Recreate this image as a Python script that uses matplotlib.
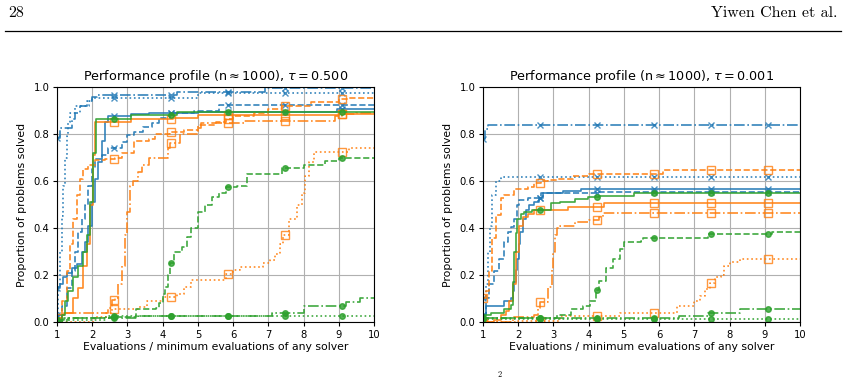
import matplotlib
matplotlib.use("Agg")
import matplotlib.pyplot as plt
import numpy as np
from matplotlib.lines import Line2D

# ---- data (step curves) ----
# tau = 0.500 panel
t500_blue_solid_x = [1.0, 1.08, 1.18, 1.27, 1.42, 1.56, 1.7, 1.8, 1.89, 1.98, 2.08, 2.17, 2.27, 2.36, 2.46, 3.1, 3.6, 5.0, 8.95]
t500_blue_solid_y = [0.145, 0.16, 0.19, 0.21, 0.23, 0.245, 0.30, 0.34, 0.41, 0.51, 0.61, 0.68, 0.77, 0.85, 0.875, 0.885, 0.89, 0.895, 0.905]
t500_blue_dashed_x = [1.0, 1.13, 1.27, 1.42, 1.51, 1.6, 1.7, 1.8, 1.89, 1.98, 2.08, 2.27, 2.46, 2.84, 2.98, 3.2, 3.45, 3.7, 3.9, 4.2, 4.9, 5.6]
t500_blue_dashed_y = [0.03, 0.07, 0.145, 0.215, 0.30, 0.385, 0.44, 0.50, 0.58, 0.65, 0.695, 0.71, 0.74, 0.766, 0.795, 0.81, 0.83, 0.845, 0.87, 0.888, 0.90, 0.923]
t500_blue_dashdot_x = [1.0, 1.08, 1.42, 1.5, 1.65, 1.84, 1.98, 2.13, 4.4, 6.9]
t500_blue_dashdot_y = [0.785, 0.825, 0.865, 0.89, 0.92, 0.94, 0.957, 0.966, 0.977, 0.994]
t500_blue_dotted_x = [1.0, 1.04, 1.08, 1.13, 1.18, 1.22, 1.27, 1.32, 1.37, 1.5, 1.9, 2.0, 5.0]
t500_blue_dotted_y = [0.02, 0.15, 0.3, 0.45, 0.58, 0.7, 0.79, 0.85, 0.89, 0.92, 0.94, 0.952, 0.973]

t500_orange_solid_x = [1.0, 1.13, 1.2, 1.46, 1.6, 1.75, 1.84, 1.94, 2.03, 2.08, 3.1, 4.3, 5.0, 9.0]
t500_orange_solid_y = [0.0, 0.03, 0.04, 0.10, 0.145, 0.24, 0.33, 0.50, 0.71, 0.85, 0.865, 0.87, 0.88, 0.885]
t500_orange_dashed_x = [1.0, 1.13, 1.27, 1.37, 1.46, 1.56, 1.65, 1.75, 1.89, 2.08, 2.36, 2.65, 2.84, 3.2, 3.6, 3.78, 4.2,
                        4.6, 5.0, 5.5, 5.8, 6.0, 6.6, 7.0, 7.4, 8.2, 9.0, 9.3]
t500_orange_dashed_y = [0.017, 0.09, 0.215, 0.33, 0.44, 0.54, 0.61, 0.65, 0.67, 0.69, 0.695, 0.70, 0.72, 0.77, 0.78, 0.80, 0.81,
                        0.815, 0.84, 0.85, 0.865, 0.875, 0.89, 0.905, 0.92, 0.935, 0.95, 0.955]
t500_orange_dashdot_x = [1.0, 1.13, 1.2, 2.46, 2.55, 2.65, 2.74, 2.84, 2.93, 2.98, 3.07, 3.17, 3.3, 3.4, 3.6, 4.15, 4.22,
                         4.5, 5.0, 5.1, 6.3, 8.9, 9.1, 9.5]
t500_orange_dashdot_y = [0.0, 0.025, 0.04, 0.06, 0.095, 0.10, 0.16, 0.24, 0.37, 0.47, 0.58, 0.60, 0.64, 0.667, 0.70, 0.74, 0.76,
                         0.80, 0.825, 0.845, 0.855, 0.875, 0.885, 0.89]
t500_orange_dotted_x = [1.0, 2.05, 2.4, 2.55, 3.3, 3.55, 4.0, 4.4, 4.6, 4.8, 5.8, 6.0, 6.2, 6.85, 7.05, 7.2, 7.32, 7.42, 7.6,
                        7.8, 7.95, 8.05, 8.15, 8.3, 9.3]
t500_orange_dotted_y = [0.0, 0.02, 0.04, 0.055, 0.065, 0.09, 0.105, 0.12, 0.15, 0.18, 0.205, 0.22, 0.235, 0.25, 0.265, 0.29, 0.33,
                        0.37, 0.44, 0.50, 0.55, 0.62, 0.68, 0.725, 0.74]

t500_green_solid_x = [1.0, 1.13, 1.23, 1.32, 1.46, 1.6, 1.75, 1.84, 1.94, 2.03, 2.1, 3.1, 4.4]
t500_green_solid_y = [0.0, 0.03, 0.09, 0.13, 0.19, 0.24, 0.30, 0.37, 0.51, 0.72, 0.865, 0.88, 0.893]
t500_green_dashed_x = [1.0, 1.3, 2.5, 3.25, 3.8, 3.9, 4.0, 4.08, 4.15, 4.22, 4.32, 4.55, 4.7, 4.8, 5.0, 5.2, 5.4, 5.6, 5.8,
                       6.1, 6.4, 7.4, 8.0, 8.6, 9.0]
t500_green_dashed_y = [0.01, 0.015, 0.02, 0.055, 0.06, 0.08, 0.12, 0.15, 0.20, 0.25, 0.30, 0.32, 0.36, 0.40, 0.47, 0.50, 0.53,
                       0.55, 0.575, 0.58, 0.63, 0.655, 0.67, 0.685, 0.70]
t500_green_dashdot_x = [1.0, 1.2, 3.3, 7.1, 8.0, 9.2, 9.6]
t500_green_dashdot_y = [0.01, 0.015, 0.027, 0.04, 0.07, 0.085, 0.10]
t500_green_dotted_x = [1.0, 1.3, 2.4]
t500_green_dotted_y = [0.0, 0.01, 0.027]

# tau = 0.001 panel
t001_blue_solid_x = [1.0, 1.08, 1.6, 1.8, 1.85, 1.89, 1.94, 1.98, 2.02, 2.06, 2.13, 2.22, 2.32, 2.46, 2.6, 2.7, 3.26, 3.78]
t001_blue_solid_y = [0.03, 0.066, 0.088, 0.10, 0.13, 0.17, 0.22, 0.27, 0.33, 0.385, 0.44, 0.476, 0.50, 0.51, 0.526, 0.55, 0.557, 0.565]
t001_blue_dashed_x = [1.0, 1.08, 1.18, 1.32, 1.46, 1.6, 1.7, 1.8, 1.89, 1.98, 2.03, 2.27, 2.65, 4.3]
t001_blue_dashed_y = [0.03, 0.10, 0.16, 0.215, 0.27, 0.34, 0.385, 0.405, 0.44, 0.50, 0.52, 0.526, 0.547, 0.553]
t001_blue_dashdot_x = [1.0, 1.05, 1.13]
t001_blue_dashdot_y = [0.78, 0.82, 0.837]
t001_blue_dotted_x = [1.0, 1.08, 1.15, 1.21, 1.27, 1.37, 1.51]
t001_blue_dotted_y = [0.10, 0.16, 0.30, 0.41, 0.54, 0.60, 0.617]

t001_orange_solid_x = [1.0, 1.32, 1.51, 1.65, 1.75, 1.84, 1.94, 2.03, 2.13, 2.27, 2.46, 3.4, 4.43]
t001_orange_solid_y = [0.0, 0.01, 0.03, 0.045, 0.088, 0.16, 0.30, 0.41, 0.448, 0.46, 0.478, 0.49, 0.507]
t001_orange_dashed_x = [1.0, 1.08, 1.18, 1.27, 1.37, 1.51, 1.6, 1.89, 2.27, 2.46, 2.65, 2.84, 3.12, 3.56, 4.0, 6.1]
t001_orange_dashed_y = [0.10, 0.13, 0.215, 0.356, 0.455, 0.526, 0.54, 0.565, 0.575, 0.59, 0.60, 0.606, 0.61, 0.62, 0.628, 0.645]
t001_orange_dashdot_x = [1.0, 1.85, 2.45, 2.55, 2.62, 2.85, 2.95, 3.0, 3.05, 3.1, 3.2, 3.6, 4.0, 4.3, 4.4]
t001_orange_dashdot_y = [0.0, 0.02, 0.03, 0.06, 0.085, 0.15, 0.22, 0.30, 0.37, 0.40, 0.41, 0.425, 0.435, 0.445, 0.465]
t001_orange_dotted_x = [1.0, 2.0, 3.2, 4.9, 6.5, 7.0, 7.15, 7.3, 7.45, 7.6, 7.75, 7.85, 8.0, 8.3]
t001_orange_dotted_y = [0.0, 0.005, 0.025, 0.04, 0.07, 0.09, 0.11, 0.14, 0.165, 0.19, 0.20, 0.24, 0.255, 0.27]

t001_green_solid_x = [1.0, 1.04, 1.23, 1.6, 1.8, 1.84, 1.89, 1.94, 1.98, 2.08, 2.17, 2.4, 2.93, 3.2, 3.6, 3.97, 4.3, 5.3]
t001_green_solid_y = [0.017, 0.03, 0.038, 0.056, 0.073, 0.17, 0.30, 0.38, 0.44, 0.46, 0.47, 0.478, 0.505, 0.51, 0.525, 0.533, 0.536, 0.548]
t001_green_dashed_x = [1.0, 3.1, 3.5, 3.85, 4.05, 4.2, 4.3, 4.5, 4.7, 4.9, 4.99, 5.5, 5.55, 7.4, 9.2]
t001_green_dashed_y = [0.016, 0.03, 0.057, 0.07, 0.09, 0.136, 0.175, 0.23, 0.27, 0.31, 0.34, 0.345, 0.356, 0.373, 0.385]
t001_green_dashdot_x = [1.0, 6.57, 7.4, 8.3]
t001_green_dashdot_y = [0.016, 0.027, 0.04, 0.057]
t001_green_dotted_x = [1.0]
t001_green_dotted_y = [0.013]

# x positions where the solver markers sit on every curve
marker_x = np.array([1.0, 2.62, 4.24, 5.86, 7.48, 9.1])

# solver colour / marker, and one linestyle per variant
solver_style = {
    "blue":   dict(color="#1f77b4", marker="x", ms=5, mfc="#1f77b4"),
    "orange": dict(color="#ff7f0e", marker="s", ms=6, mfc="none"),
    "green":  dict(color="#2ca02c", marker="o", ms=4, mfc="#2ca02c"),
}
variant_ls = {"solid": "-", "dashed": "--", "dashdot": "-.", "dotted": ":"}

panels = [
    ("0.500", {
        ("blue", "solid"): (t500_blue_solid_x, t500_blue_solid_y),
        ("blue", "dashed"): (t500_blue_dashed_x, t500_blue_dashed_y),
        ("blue", "dashdot"): (t500_blue_dashdot_x, t500_blue_dashdot_y),
        ("blue", "dotted"): (t500_blue_dotted_x, t500_blue_dotted_y),
        ("orange", "solid"): (t500_orange_solid_x, t500_orange_solid_y),
        ("orange", "dashed"): (t500_orange_dashed_x, t500_orange_dashed_y),
        ("orange", "dashdot"): (t500_orange_dashdot_x, t500_orange_dashdot_y),
        ("orange", "dotted"): (t500_orange_dotted_x, t500_orange_dotted_y),
        ("green", "solid"): (t500_green_solid_x, t500_green_solid_y),
        ("green", "dashed"): (t500_green_dashed_x, t500_green_dashed_y),
        ("green", "dashdot"): (t500_green_dashdot_x, t500_green_dashdot_y),
        ("green", "dotted"): (t500_green_dotted_x, t500_green_dotted_y),
    }),
    ("0.001", {
        ("blue", "solid"): (t001_blue_solid_x, t001_blue_solid_y),
        ("blue", "dashed"): (t001_blue_dashed_x, t001_blue_dashed_y),
        ("blue", "dashdot"): (t001_blue_dashdot_x, t001_blue_dashdot_y),
        ("blue", "dotted"): (t001_blue_dotted_x, t001_blue_dotted_y),
        ("orange", "solid"): (t001_orange_solid_x, t001_orange_solid_y),
        ("orange", "dashed"): (t001_orange_dashed_x, t001_orange_dashed_y),
        ("orange", "dashdot"): (t001_orange_dashdot_x, t001_orange_dashdot_y),
        ("orange", "dotted"): (t001_orange_dotted_x, t001_orange_dotted_y),
        ("green", "solid"): (t001_green_solid_x, t001_green_solid_y),
        ("green", "dashed"): (t001_green_dashed_x, t001_green_dashed_y),
        ("green", "dashdot"): (t001_green_dashdot_x, t001_green_dashdot_y),
        ("green", "dotted"): (t001_green_dotted_x, t001_green_dotted_y),
    }),
]


def step_value(xs, ys, at):
    """value of a steps-post curve at the given x positions"""
    idx = np.searchsorted(xs, at, side="right") - 1
    return np.asarray(ys)[np.clip(idx, 0, len(ys) - 1)]


fig = plt.figure(figsize=(8.47, 3.77), dpi=100)

axes_rects = [[0.0673, 0.1459, 0.3743, 0.6233], [0.5702, 0.1459, 0.3743, 0.6233]]

for rect, (tau, curves) in zip(axes_rects, panels):
    ax = fig.add_axes(rect)
    for (solver, variant), (xs, ys) in curves.items():
        st = solver_style[solver]
        # carry the last level on past the right edge
        xx = list(xs) + [11.0]
        yy = list(ys) + [ys[-1]]
        ax.plot(xx, yy, drawstyle="steps-post", color=st["color"],
                ls=variant_ls[variant], lw=1.2, alpha=0.9)
        ax.plot(marker_x, step_value(xs, ys, marker_x), ls="none",
                marker=st["marker"], ms=st["ms"], mec=st["color"],
                mfc=st["mfc"], mew=1.0, alpha=0.8)
    ax.set_xlim(1, 10)
    ax.set_ylim(0, 1)
    ax.set_xticks(range(1, 11))
    ax.set_yticks(np.arange(0, 1.01, 0.2))
    ax.grid(True, color="#b0b0b0", lw=0.8)
    ax.tick_params(labelsize=7.2, length=3, pad=2.5)
    ax.set_title(r"Performance profile (n$\approx$1000), $\tau=%s$" % tau, fontsize=9.2, pad=5)
    ax.set_xlabel("Evaluations / minimum evaluations of any solver", fontsize=7.8, labelpad=2)
    ax.set_ylabel("Proportion of problems solved", fontsize=7.8, labelpad=5)

# page header of the paper
fig.text(0.0094, 0.966, "28", family="cmr10", fontsize=11.5, va="center")
fig.text(0.989, 0.966, "Yiwen Chen et al.", family="cmr10", fontsize=11.5, va="center", ha="right")
fig.add_artist(Line2D([0.006, 0.993], [0.918, 0.918], transform=fig.transFigure, color="black", lw=0.9))
fig.text(0.587, -0.004, "2", family="cmr10", fontsize=6, va="bottom")

fig.savefig("out.png", dpi=100)
